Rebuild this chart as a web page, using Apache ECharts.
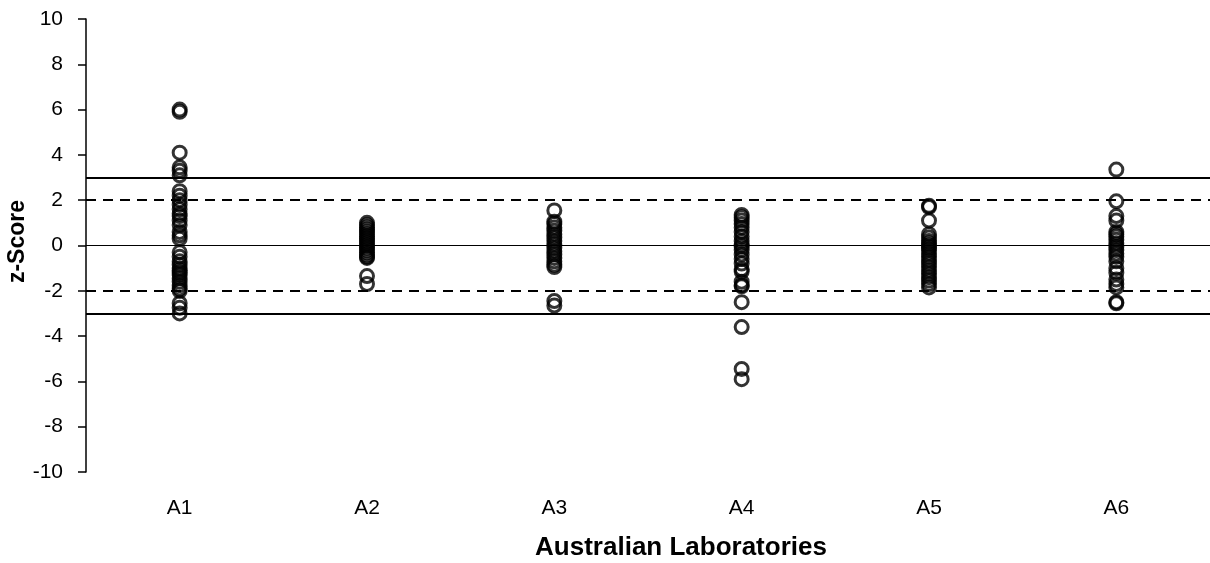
<!DOCTYPE html>
<html><head><meta charset="utf-8">
<script src="https://cdn.jsdelivr.net/npm/echarts@6/dist/echarts.min.js"></script>
<style>html,body{margin:0;padding:0;background:#fff}#c{width:1210px;height:563px}</style>
</head><body><div id="c"></div>
<script>
var categories = ['A1','A2','A3','A4','A5','A6'];
var yTicks = [-10,-8,-6,-4,-2,0,2,4,6,8,10];
var a1 = [6.0,5.9,4.1,3.45,3.3,3.1,2.4,2.2,2.0,1.8,1.6,1.4,1.3,1.1,0.9,0.6,0.45,0.3,-0.3,-0.5,-0.7,-0.85,-1.0,-1.1,-1.2,-1.3,-1.45,-1.6,-1.75,-1.9,-2.0,-2.55,-2.75,-3.0];
var a2 = [1.0,0.9,0.8,0.7,0.6,0.5,0.4,0.3,0.2,0.1,0.0,-0.1,-0.2,-0.3,-0.4,-0.5,-0.55,-1.35,-1.7];
var a3 = [1.55,1.05,0.95,0.8,0.65,0.5,0.35,0.2,0.05,-0.1,-0.25,-0.4,-0.55,-0.7,-0.85,-0.95,-2.45,-2.65];
var a4 = [1.35,1.25,1.1,0.95,0.8,0.6,0.4,0.2,0.05,-0.05,-0.2,-0.4,-0.6,-0.8,-1.05,-1.15,-1.6,-1.75,-1.8,-2.5,-3.6,-5.45,-5.9];
var a5 = [1.75,1.7,1.1,0.5,0.35,0.2,0.1,0.0,-0.1,-0.2,-0.35,-0.5,-0.65,-0.8,-0.95,-1.1,-1.25,-1.4,-1.55,-1.7,-1.85];
var a6 = [3.35,1.95,1.3,1.1,0.6,0.5,0.4,0.25,0.1,-0.05,-0.2,-0.35,-0.5,-0.7,-1.0,-1.2,-1.5,-1.7,-1.85,-2.5,-2.55];
var labs = [a1,a2,a3,a4,a5,a6];
var limitLines = [3,2,0,-2,-3];

var data = [];
labs.forEach(function(arr,i){ arr.forEach(function(v){ data.push([categories[i], v]); }); });

function lineStyleFor(v){
  if (Math.abs(v) === 3) return {color:'#000', width:2, type:'solid'};
  if (Math.abs(v) === 2) return {color:'#000', width:2, type:[10,7]};
  return {color:'#000', width:1, type:'solid'};
}
var FF = 'Liberation Sans, Arial, sans-serif';
var chart = echarts.init(document.getElementById('c'));
chart.setOption({
  animation:false,
  textStyle:{fontFamily:FF},
  grid:{left:86,right:0,top:19,bottom:91,containLabel:false,outerBoundsMode:'none'},
  xAxis:{
    type:'category', data:categories, boundaryGap:true,
    axisLine:{show:false}, axisTick:{show:false}, splitLine:{show:false},
    axisLabel:{color:'#000', fontSize:21, margin:26, fontFamily:FF},
    name:'Australian Laboratories', nameLocation:'middle', nameGap:63, nameMoveOverlap:false,
    nameTextStyle:{color:'#000', fontSize:26, fontWeight:'bold', fontFamily:FF, padding:[0,0,0,66]}
  },
  yAxis:{
    type:'value', min:-10, max:10, interval:2,
    axisLine:{show:true, lineStyle:{color:'#000', width:1.5}},
    axisTick:{show:true, inside:false, length:8, lineStyle:{color:'#000', width:1.5}},
    splitLine:{show:false},
    axisLabel:{color:'#000', fontSize:21, margin:23, fontFamily:FF},
    name:'z-Score', nameLocation:'middle', nameGap:57, nameRotate:90, nameMoveOverlap:false,
    nameTextStyle:{color:'#000', fontSize:23, fontWeight:'bold', fontFamily:FF, padding:[0,0,0,8]}
  },
  series:[{
    type:'scatter', data:data, symbol:'circle', symbolSize:13,
    itemStyle:{color:'rgba(0,0,0,0)', borderColor:'#000', borderWidth:3},
    z:3,
    markLine:{
      silent:true, symbol:['none','none'], label:{show:false},
      data: limitLines.map(function(v){ return {yAxis:v, lineStyle:lineStyleFor(v)}; })
    }
  }]
});
</script></body></html>
